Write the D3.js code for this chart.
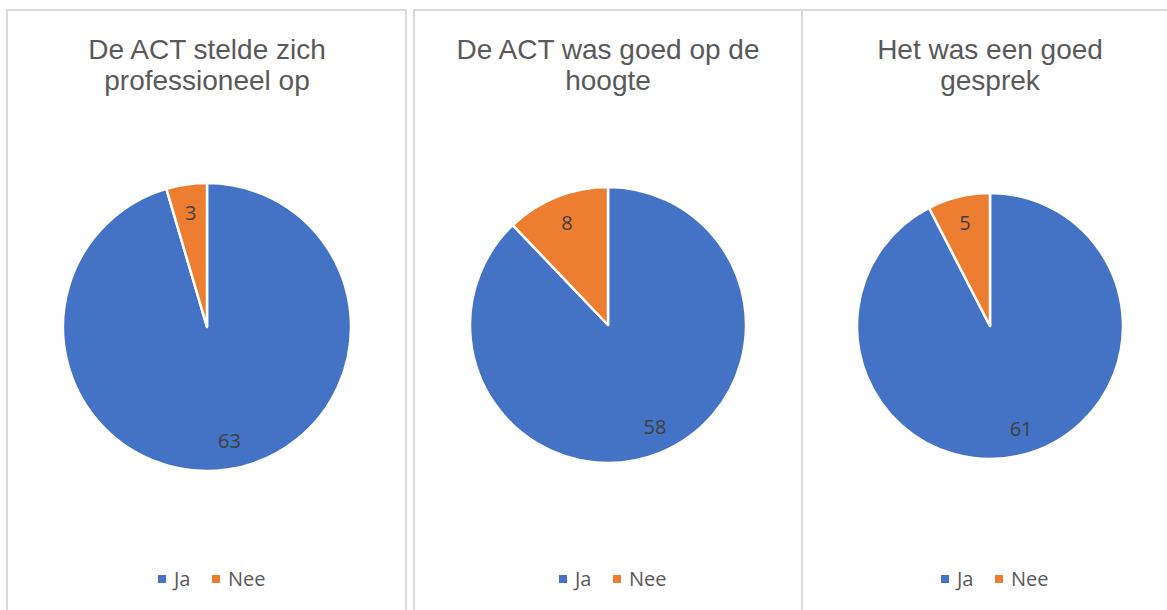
<!DOCTYPE html>
<html>
<head>
<meta charset="utf-8">
<script src="https://cdn.jsdelivr.net/npm/d3@7"></script>
<style>
  body { margin: 0; background: #fff; }
  .title { font-family: "Liberation Sans", Arial, sans-serif; font-size: 28px; fill: #595959; }
  .legend text { font-family: "Open Sans", sans-serif; font-size: 20px; fill: #595959; }
  .label { font-family: "Open Sans", sans-serif; font-size: 20px; fill: #404040; }
</style>
</head>
<body>
<script>
// data
var categories = ["Ja", "Nee"];
var titles = [
  ["De ACT stelde zich", "professioneel op"],
  ["De ACT was goed op de", "hoogte"],
  ["Het was een goed", "gesprek"]
];
var jaValues = [63, 58, 61];
var neeValues = [3, 8, 5];
var colors = ["#4472C4", "#ED7D31"];

var width = 1167,
    height = 610;

var svg = d3.select("body")
    .append("svg")
    .attr("width", width)
    .attr("height", height);

// panel layout (frame box + pie centre/radius)
var panels = [
  {x: 7, w: 399, cx: 207, cy: 327, r: 144},
  {x: 414, w: 388, cx: 608, cy: 325, r: 138},
  {x: 802, w: 400, cx: 990, cy: 326, r: 133}
];

var color = d3.scaleOrdinal()
    .domain(categories)
    .range(colors);

var pie = d3.pie()
    .sort(null)
    .value(d => d.value);

panels.forEach(function(p, i) {
  var g = svg.append("g");

  g.append("rect")
      .attr("x", p.x)
      .attr("y", 10)
      .attr("width", p.w)
      .attr("height", height + 20)
      .attr("fill", "none")
      .attr("stroke", "#d9d9d9")
      .attr("stroke-width", 2);

  g.append("text")
      .attr("class", "title")
      .attr("text-anchor", "middle")
    .selectAll("tspan")
    .data(titles[i])
    .enter().append("tspan")
      .attr("x", p.cx)
      .attr("y", (d, j) => 59 + j * 31)
      .text(d => d);

  var data = [
    {key: categories[0], value: jaValues[i]},
    {key: categories[1], value: neeValues[i]}
  ];

  var arc = d3.arc().innerRadius(0).outerRadius(p.r);
  // big slice label sits a bit further round, like Excel's best fit
  var labelArc = d3.arc().innerRadius(p.r * 0.8).outerRadius(p.r * 0.8);

  var pg = g.append("g")
      .attr("transform", `translate(${p.cx},${p.cy})`);

  pg.selectAll("path")
    .data(pie(data))
    .enter().append("path")
      .attr("d", arc)
      .attr("fill", d => color(d.data.key))
      .attr("stroke", "#fff")
      .attr("stroke-width", 2.5)
      .attr("stroke-linejoin", "round");

  pg.selectAll("text")
    .data(pie(data))
    .enter().append("text")
      .attr("class", "label")
      .attr("text-anchor", "middle")
      .attr("dy", "0.35em")
      .attr("transform", function(d) {
        var c = labelArc.centroid(d);
        if (d.index == 0) c[0] += 6;
        return `translate(${c})`;
      })
      .text(d => d.data.value);

  // legend
  var lg = g.append("g")
      .attr("class", "legend")
      .attr("transform", `translate(${p.cx},0)`);
  var offsets = [-49, 5];
  categories.forEach(function(c, k) {
    lg.append("rect")
        .attr("x", offsets[k])
        .attr("y", 575)
        .attr("width", 8)
        .attr("height", 8)
        .attr("fill", color(c));
    lg.append("text")
        .attr("x", offsets[k] + 16)
        .attr("y", 586)
        .text(c);
  });
});
</script>
</body>
</html>
